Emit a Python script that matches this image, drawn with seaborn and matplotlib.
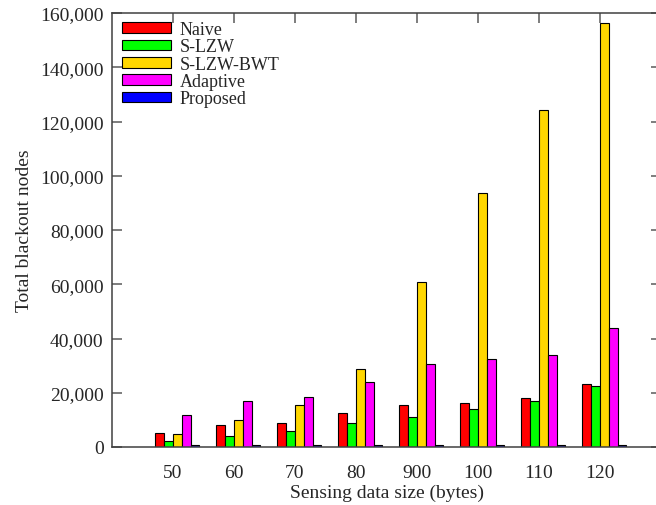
import numpy as np
import pandas as pd
import matplotlib
matplotlib.use("Agg")
import matplotlib.pyplot as plt
from matplotlib.ticker import FuncFormatter
import seaborn as sns

# Sensing data sizes (category labels as printed on the axis)
sizes = ["50", "60", "70", "80", "900", "100", "110", "120"]
schemes = ["Naive", "S-LZW", "S-LZW-BWT", "Adaptive", "Proposed"]

naive = [5200, 8000, 9000, 12400, 15400, 16100, 17900, 23100]
s_lzw = [2100, 4200, 5800, 8700, 11100, 13900, 16800, 22600]
s_lzw_bwt = [4800, 10100, 15600, 28600, 61000, 93500, 124400, 156200]
adaptive = [11800, 16800, 18300, 23800, 30500, 32400, 33800, 43800]
proposed = [600, 600, 650, 650, 700, 700, 700, 750]

colors = ["#ff0000", "#00ff00", "#ffd700", "#ff00ff", "#0000ff"]

series = [naive, s_lzw, s_lzw_bwt, adaptive, proposed]
df = pd.DataFrame(
    [(s, name, v) for name, vals in zip(schemes, series) for s, v in zip(sizes, vals)],
    columns=["size", "scheme", "nodes"],
)

sns.set_style("ticks")
plt.rcParams["font.family"] = ["Liberation Serif", "DejaVu Serif"]

fig = plt.figure(figsize=(6.56, 5.06), dpi=100)
ax = fig.add_axes([112 / 656, 58 / 506, 549 / 656, 434 / 506])

group_width = 0.72
bar_w = group_width / len(schemes)
sns.barplot(
    data=df, x="size", y="nodes", hue="scheme", order=sizes, hue_order=schemes,
    palette=colors, width=group_width, saturation=1, edgecolor="black",
    linewidth=0.8, ax=ax, legend=True,
)

# category ticks sit at the left edge of the middle bar of each cluster
pos = np.arange(len(sizes)) - bar_w / 2
ax.set_xticks(pos, sizes)
ax.set_xlim(-1 - bar_w / 2, len(sizes) - bar_w / 2)
ax.set_ylim(0, 160000)
ax.set_yticks(np.arange(0, 160001, 20000))
ax.yaxis.set_major_formatter(FuncFormatter(lambda v, _: f"{int(v):,}"))

for side in ["left", "right", "top", "bottom"]:
    ax.spines[side].set_visible(True)
    ax.spines[side].set_color("#404040")
    ax.spines[side].set_linewidth(1.1)

ax.tick_params(axis="y", direction="in", left=True, right=True, length=7.5,
               width=1.1, color="#5a5a5a", labelsize=14, pad=6)
ax.tick_params(axis="x", direction="in", bottom=False, top=True, length=7,
               width=1.1, color="#5a5a5a", labelsize=14, pad=12)

ax.set_xlabel("Sensing data size (bytes)", fontsize=14, labelpad=2)
ax.set_ylabel("Total blackout nodes", fontsize=14, labelpad=5)

handles, labels = ax.get_legend_handles_labels()
ax.legend(
    handles, labels, loc="upper left", bbox_to_anchor=(10 / 549, 1 - 8 / 434),
    frameon=False, fontsize=13, handlelength=2.7, handleheight=0.55,
    handletextpad=0.5, labelspacing=0.02, borderaxespad=0, borderpad=0,
)

fig.savefig("out.png", dpi=100)
